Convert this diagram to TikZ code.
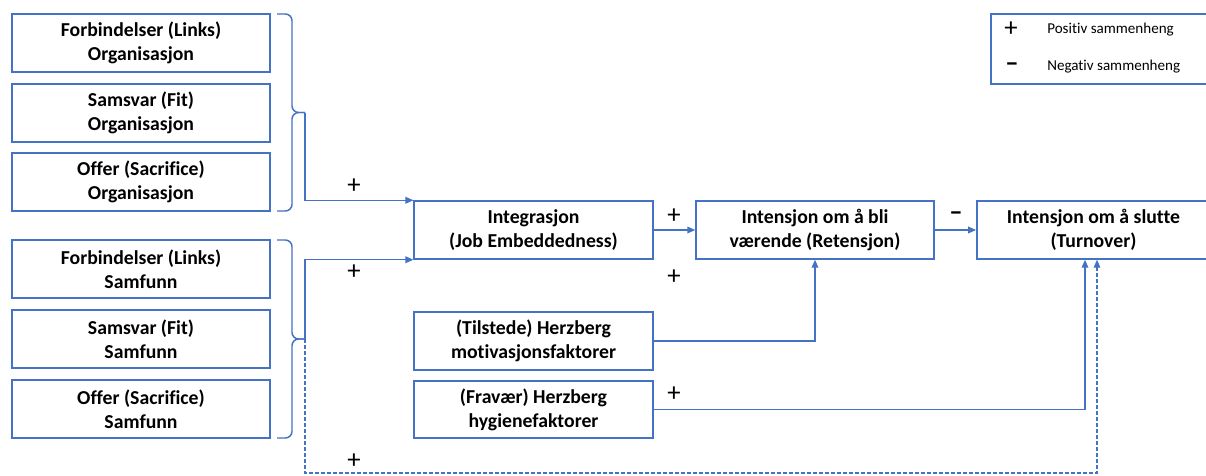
\documentclass[tikz,border=0pt]{standalone}
\usepackage{fontspec}
\setmainfont{Carlito}[Ligatures=NoCommon]
\usetikzlibrary{calc,positioning,decorations.pathreplacing,arrows.meta}
\usepackage{xcolor}
\definecolor{boxblue}{HTML}{4472C4}

\tikzset{
  factor/.style={draw=boxblue, line width=1.1pt, minimum width=193.5pt, minimum height=43.5pt,
    inner sep=2pt, align=center, font=\bfseries\fontsize{14.8}{18}\selectfont},
  link/.style={boxblue, line width=1.1pt, -{Triangle[length=6pt,width=5pt]}},
  sign/.style={inner sep=0pt, font=\fontsize{20}{20}\selectfont},
  bracket/.style={boxblue, line width=1.1pt, rounded corners=5pt},
}

\begin{document}
\begin{tikzpicture}[x=0.75pt, y=-0.75pt]
\useasboundingbox (0,0) rectangle (1206,475);

% Draw the six left boxes
\foreach \i/\y/\top/\bot in {1/43/Forbindelser (Links)/Organisasjon, 2/113/Samsvar (Fit)/Organisasjon,
    3/182/Offer (Sacrifice)/Organisasjon, 4/269/Forbindelser (Links)/Samfunn,
    5/339/Samsvar (Fit)/Samfunn, 6/409/Offer (Sacrifice)/Samfunn} {
    \node[factor] (f\i) at (141,\y) {\top\\\bot};
}

% Draw the middle and right boxes
\node[factor, minimum width=179pt] (integ) at (533.5,230) {Integrasjon\\(Job Embeddedness)};
\node[factor, minimum width=178.5pt] (ret) at (815,230) {Intensjon om å bli\\værende (Retensjon)};
\node[factor, minimum width=175pt] (turn) at (1093.5,230) {Intensjon om å slutte\\(Turnover)};
\node[factor, minimum width=179pt] (motiv) at (533.5,341) {(Tilstede) Herzberg\\motivasjonsfaktorer};
\node[factor, minimum width=179pt, minimum height=42.75pt] (hyg) at (533.5,409.5) {(Fravær) Herzberg\\hygienefaktorer};

% Brace tips
\coordinate (tipA) at (305,112.5);
\coordinate (tipB) at (305,339);

% Braces grouping the left boxes
\draw[bracket] (277,14) -| (292,112.5) -- (tipA);
\draw[bracket] (277,211) -| (292,112.5) -- (tipA);
\draw[bracket] (277,240) -| (292,339) -- (tipB);
\draw[bracket] (277,438) -| (292,339) -- (tipB);

% Corner points for the long connectors
\coordinate (dashcorner) at (1097,473);
\coordinate (hygx) at (1085,0);

% Draw the connectors
\draw[link] (tipA) |- (integ.north west);
\draw[link] (tipB) |- (integ.south west);
\draw[link] (integ.east) -- (ret.west);
\draw[link] (ret.east) -- (turn.west);
\draw[link] (motiv.east) -| (ret.south);
\draw[link] (hyg.east) -| (turn.south -| hygx);
\draw[link, line width=0.9pt, dash pattern=on 3pt off 1.5pt] (tipB) |- (dashcorner) -- (turn.south -| dashcorner);

% Signs on the connectors
\node[sign] (s1) at (354,186) {+};
\node[sign] (s2) at (354,272) {+};
\node[sign] (s3) at (354,461) {+};
\node[sign] (s4) at (674,216) {+};
\node[sign] (s5) at (674,277) {+};
\node[sign] (s6) at (674,394) {+};
\node[sign] (s7) at (956,216) {\textbf{–}};

% Legend
\node[draw=boxblue, line width=1.1pt, minimum width=165pt, minimum height=52.5pt] (legend) at (1101,49) {};
\node[sign] (lp) at (1011,29) {+};
\node[sign] (lm) at (1012,67) {\textbf{–}};
\node[anchor=west, inner sep=0pt, font=\fontsize{11.3}{13}\selectfont] (lpt) at (1047,30) {Positiv sammenheng};
\node[anchor=west, inner sep=0pt, font=\fontsize{11.3}{13}\selectfont] (lmt) at (1047,67) {Negativ sammenheng};

\end{tikzpicture}
\end{document}
